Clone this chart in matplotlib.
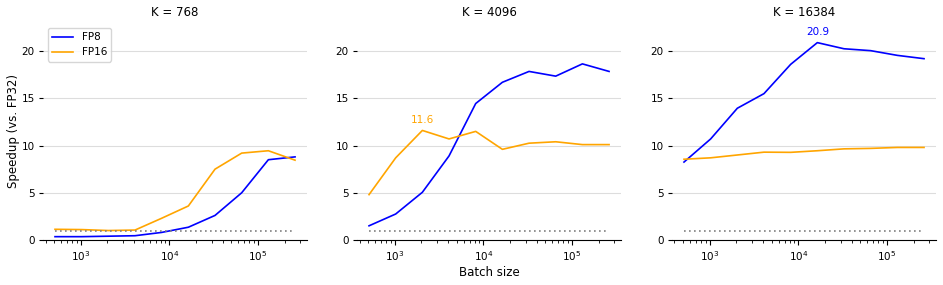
import matplotlib
matplotlib.use('Agg')
import matplotlib.pyplot as plt

batch_sizes = [512, 1024, 2048, 4096, 8192, 16384, 32768, 65536, 131072, 262144]
k_values = [768, 4096, 16384]

fp8 = {
    768: [0.35, 0.35, 0.4, 0.45, 0.8, 1.35, 2.6, 5.0, 8.5, 8.8],
    4096: [1.5, 2.75, 5.05, 8.9, 14.45, 16.7, 17.85, 17.35, 18.65, 17.85],
    16384: [8.25, 10.7, 13.95, 15.5, 18.6, 20.9, 20.25, 20.05, 19.55, 19.2],
}
fp16 = {
    768: [1.13, 1.1, 1.0, 1.05, 2.3, 3.6, 7.5, 9.2, 9.45, 8.45],
    4096: [4.8, 8.7, 11.6, 10.7, 11.5, 9.6, 10.25, 10.4, 10.1, 10.1],
    16384: [8.55, 8.7, 9.0, 9.3, 9.28, 9.45, 9.65, 9.7, 9.8, 9.8],
}
# which series gets its peak labelled in each panel
peak_label = {4096: 'FP16', 16384: 'FP8'}

fig = plt.figure(figsize=(9.43, 2.85), dpi=100)
lefts = [0.0456, 0.3786, 0.7126]
axes = [fig.add_axes([l, 0.158, 0.28, 0.762]) for l in lefts]

for ax, k in zip(axes, k_values):
    ax.plot(batch_sizes, fp8[k], color='blue', lw=1.2, label='FP8')
    ax.plot(batch_sizes, fp16[k], color='orange', lw=1.2, label='FP16')
    ax.plot(batch_sizes, [1] * len(batch_sizes), color='gray', lw=1.2, ls=(0, (1, 2)))
    ax.set_xscale('log')
    ax.set_ylim(0, 23)
    ax.set_yticks([0, 5, 10, 15, 20])
    ax.grid(axis='y', color='#dddddd', lw=0.8)
    ax.set_axisbelow(True)
    for s in ['top', 'right', 'left']:
        ax.spines[s].set_visible(False)
    ax.tick_params(labelsize=7.5)
    ax.tick_params(axis='y', length=3, pad=3)
    ax.set_title(f'K = {k}', fontsize=8.5, pad=5)

    if k in peak_label:
        series = fp8[k] if peak_label[k] == 'FP8' else fp16[k]
        col = 'blue' if peak_label[k] == 'FP8' else 'orange'
        i = series.index(max(series))
        ax.annotate(f'{series[i]:.1f}', (batch_sizes[i], series[i]),
                    xytext=(0, 4), textcoords='offset points',
                    ha='center', va='bottom', color=col, fontsize=7.5)

axes[0].set_ylabel('Speedup (vs. FP32)', fontsize=8.5, labelpad=1)
axes[1].set_xlabel('Batch size', fontsize=8.5, labelpad=2)
axes[0].legend(loc='upper left', fontsize=7.5)

fig.savefig('out.png', dpi=100)
